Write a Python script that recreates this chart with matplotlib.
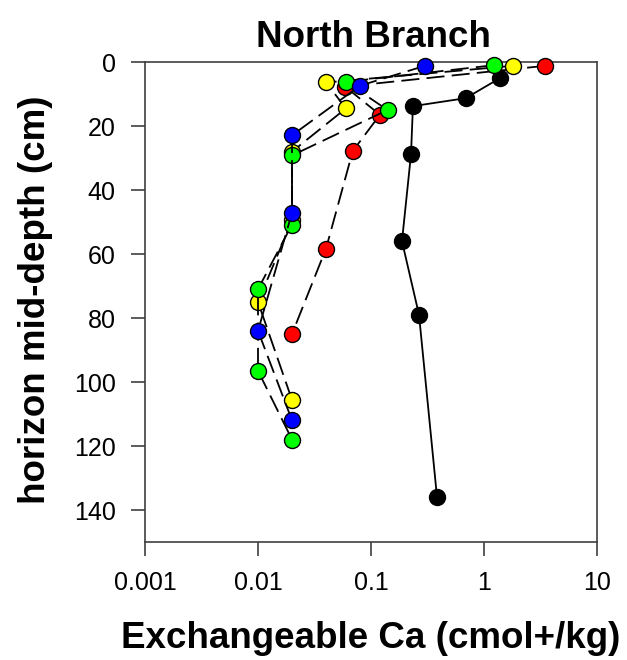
import matplotlib
matplotlib.use("Agg")
import matplotlib.pyplot as plt
from matplotlib.ticker import FixedLocator, FixedFormatter, NullLocator

plt.rcParams['font.family'] = ['Liberation Sans', 'DejaVu Sans']

# Exchangeable Ca (cmol+/kg) versus horizon mid-depth (cm), one profile per site
black_ca = [1.39, 0.69, 0.235, 0.226, 0.188, 0.266, 0.384]
black_depth = [5.0, 11.3, 13.8, 28.8, 56.0, 79.0, 136.0]

red_ca = [3.47, 0.059, 0.12, 0.069, 0.040, 0.020]
red_depth = [1.2, 7.7, 16.5, 27.8, 58.3, 85.0]

yellow_ca = [1.80, 0.040, 0.060, 0.020, 0.020, 0.010, 0.020]
yellow_depth = [1.2, 6.4, 14.5, 28.0, 49.5, 75.0, 105.6]

green_ca = [1.22, 0.060, 0.140, 0.020, 0.020, 0.010, 0.010, 0.020]
green_depth = [1.0, 6.2, 15.0, 29.2, 50.8, 71.0, 96.5, 118.0]

blue_ca = [0.30, 0.080, 0.020, 0.020, 0.010, 0.020]
blue_depth = [1.2, 7.4, 22.9, 47.1, 84.0, 112.0]

x_ticks = [0.001, 0.01, 0.1, 1, 10]
x_tick_labels = ["0.001", "0.01", "0.1", "1", "10"]
y_ticks = [0, 20, 40, 60, 80, 100, 120, 140]

fig = plt.figure(figsize=(6.27, 6.6), dpi=100)
ax = fig.add_axes([145 / 627, 1 - 542 / 660, (597 - 145) / 627, (542 - 62) / 660])

dash = (0, (10, 4))
series = [
    (black_ca, black_depth, 'black', '-'),
    (red_ca, red_depth, '#ff0000', dash),
    (yellow_ca, yellow_depth, '#ffff00', dash),
    (green_ca, green_depth, '#00ff00', dash),
    (blue_ca, blue_depth, '#0000ff', dash),
]
for i, (xs, ys, color, ls) in enumerate(series):
    ax.plot(xs, ys, linestyle=ls, color='black', linewidth=1.3,
            marker='o', markersize=11.5, markerfacecolor=color,
            markeredgecolor='black', markeredgewidth=1.0,
            zorder=3 + i, clip_on=False)

ax.set_xscale('log')
ax.set_xlim(0.001, 10)
ax.set_ylim(150, 0)

ax.xaxis.set_major_locator(FixedLocator(x_ticks))
ax.xaxis.set_major_formatter(FixedFormatter(x_tick_labels))
ax.xaxis.set_minor_locator(NullLocator())
ax.set_yticks(y_ticks)

ax.tick_params(axis='both', direction='out', length=10, width=1.2,
               color='#404040', labelsize=18, pad=11, top=False, right=False)
for spine in ax.spines.values():
    spine.set_linewidth(1.2)
    spine.set_color('#404040')

fig.text(373.5 / 627, 1 - 47 / 660, "North Branch", ha='center', va='baseline',
         fontsize=26.5, fontweight='bold')
fig.text(371 / 627, 1 - 638 / 660, "Exchangeable Ca (cmol+/kg)", ha='center',
         va='center', fontsize=26.5, fontweight='bold')
fig.text(36 / 627, 1 - 300 / 660, "horizon mid-depth (cm)", ha='center',
         va='center', rotation=90, fontsize=26.5, fontweight='bold')

fig.savefig("out.png", dpi=100)
